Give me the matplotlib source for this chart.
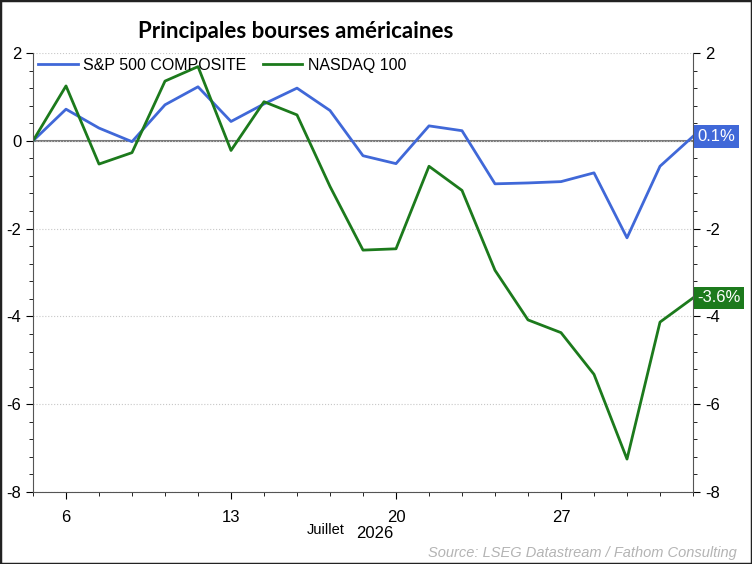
import matplotlib.pyplot as plt
from matplotlib.ticker import MultipleLocator
from matplotlib.patches import Rectangle
import numpy as np

# trading days, July 2026
days = [3, 6, 7, 8, 9, 10, 13, 14, 15, 16, 17, 20, 21, 22, 23, 24, 27, 28, 29, 30, 31]
labelled_days = [6, 13, 20, 27]

sp500 = [0.0, 0.72, 0.29, -0.02, 0.82, 1.23, 0.44, 0.84, 1.20, 0.69, -0.34,
         -0.52, 0.34, 0.23, -0.98, -0.96, -0.93, -0.73, -2.21, -0.58, 0.10]
nasdaq = [0.0, 1.25, -0.53, -0.27, 1.36, 1.69, -0.22, 0.89, 0.59, -1.04, -2.49,
          -2.46, -0.58, -1.13, -2.95, -4.08, -4.37, -5.32, -7.25, -4.13, -3.58]

blue = '#4068d8'
green = '#1c7a1c'
narrow = ['Liberation Sans Narrow', 'Liberation Sans', 'DejaVu Sans']

plt.rcParams['font.family'] = ['Liberation Sans', 'DejaVu Sans']

fig = plt.figure(figsize=(7.52, 5.64), dpi=100)
ax = fig.add_axes([33 / 752, 1 - 492 / 564, 660 / 752, 439 / 564])

x = np.arange(len(days))
ax.plot(x, sp500, color=blue, lw=2, label='S&P 500 COMPOSITE')
ax.plot(x, nasdaq, color=green, lw=2, label='NASDAQ 100')
ax.axhline(0, color='#7a7a7a', lw=1.5, zorder=1)

ax.set_xlim(0, len(days) - 1)
ax.set_ylim(-8, 2)

major = [days.index(d) for d in labelled_days]
ax.set_xticks(major)
ax.set_xticklabels([str(d) for d in labelled_days], family=narrow, fontsize=12)
ax.set_xticks(x, minor=True)
ax.set_yticks([2, 0, -2, -4, -6, -8])
ax.yaxis.set_minor_locator(MultipleLocator(0.4))
ax.tick_params(axis='y', which='both', labelsize=12, left=True, right=True,
               labelleft=True, labelright=True, direction='out')
ax.tick_params(axis='y', which='major', length=5)
ax.tick_params(axis='y', which='minor', length=3)
ax.tick_params(axis='x', which='major', length=5, pad=8)
ax.tick_params(axis='x', which='minor', length=3)
ax.set_yticklabels(['2', '0', '-2', '-4', '-6', '-8'])
# the right "0" sits under the value box
ax.yaxis.get_major_ticks()[1].label2.set_visible(False)

for spine in ['left', 'right', 'bottom']:
    ax.spines[spine].set_color('#555555')
ax.spines['top'].set_visible(False)
ax.grid(axis='y', which='major', color='#c8c8c8', ls=':', lw=0.8)

ax.legend(loc='upper left', bbox_to_anchor=(0, 1.0), ncol=2, frameon=False,
          fontsize=11.5, handlelength=2.5, columnspacing=1.0, handletextpad=0.35,
          borderaxespad=0, borderpad=0.3)

# end-of-line value labels
for vals, col in [(sp500, blue), (nasdaq, green)]:
    ax.annotate('%.1f%%' % vals[-1], xy=(1, vals[-1]), xycoords=('axes fraction', 'data'),
                xytext=(3, 0), textcoords='offset points', va='center', ha='left',
                color='white', fontsize=12, zorder=10,
                bbox=dict(boxstyle='square,pad=0.22', fc=col, ec='none'))

fig.text(296 / 752, 1 - 32 / 564, 'Principales bourses américaines', ha='center', va='center',
         fontsize=16, fontweight='bold', family=['Lato', 'DejaVu Sans'])
fig.text(326 / 752, 1 - 530 / 564, 'Juillet', ha='center', va='center', fontsize=10.5,
         family=narrow)
fig.text(375 / 752, 1 - 533 / 564, '2026', ha='center', va='center', fontsize=12,
         family=narrow)
fig.text(737 / 752, 1 - 553 / 564, 'Source: LSEG Datastream / Fathom Consulting', ha='right',
         va='center', fontsize=10.5, style='italic', color='#b4b4b4')

fig.patches.append(Rectangle((0, 0), 1, 1, transform=fig.transFigure, fill=False,
                             ec='#222222', lw=2.5))

fig.savefig('out.png', dpi=100)
